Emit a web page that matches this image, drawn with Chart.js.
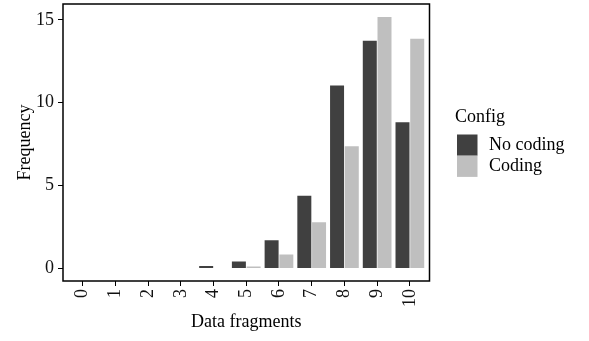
<!DOCTYPE html>
<html>
<head>
<meta charset="utf-8">
<script src="https://cdn.jsdelivr.net/npm/chart.js@4/dist/chart.umd.min.js"></script>
<style>
    html, body { margin: 0; padding: 0; background: #fff; }
    #wrap { width: 589px; height: 341px; position: relative; }
</style>
</head>
<body>
<div id="wrap"><canvas id="chart"></canvas></div>
<script>
// Data
const categories = ['0', '1', '2', '3', '4', '5', '6', '7', '8', '9', '10'];
const seriesNames = ['No coding', 'Coding'];
const noCoding = [0, 0, 0, 0, 0.14, 0.42, 1.7, 4.38, 11.04, 13.74, 8.82];
const coding = [0, 0, 0, 0, 0, 0.12, 0.84, 2.78, 7.38, 15.18, 13.86];
const yTicks = [0, 5, 10, 15];

const FONT = "'Liberation Serif', 'DejaVu Serif', serif";
const colors = ['#404040', '#bfbfbf'];

// Black frame round the panel
const framePlugin = {
    id: 'frame',
    afterDraw(chart) {
        const { ctx, chartArea: a } = chart;
        ctx.save();
        ctx.strokeStyle = '#000';
        ctx.lineWidth = 1.5;
        ctx.strokeRect(a.left, a.top, a.right - a.left, a.bottom - a.top);
        ctx.restore();
    }
};

// ggplot style legend on the right
const legendPlugin = {
    id: 'sideLegend',
    afterDraw(chart) {
        const ctx = chart.ctx;
        ctx.save();
        ctx.font = '18px ' + FONT;
        ctx.fillStyle = '#000';
        ctx.textBaseline = 'alphabetic';
        ctx.fillText('Config', 455, 121.5);
        ctx.textBaseline = 'middle';
        chart.data.datasets.forEach((ds, i) => {
            const y = 134.5 + i * 21.2;
            ctx.fillStyle = ds.backgroundColor;
            ctx.fillRect(457, y, 20.5, 21.2);
            ctx.fillStyle = '#000';
            ctx.fillText(ds.label, 489, y + 11);
        });
        ctx.restore();
    }
};

new Chart(document.getElementById('chart'), {
    type: 'bar',
    data: {
        datasets: [
            { label: seriesNames[0], data: noCoding.map((v, i) => ({ x: Number(categories[i]), y: v })), backgroundColor: colors[0] },
            { label: seriesNames[1], data: coding.map((v, i) => ({ x: Number(categories[i]), y: v })), backgroundColor: colors[1] }
        ]
    },
    options: {
        responsive: true,
        maintainAspectRatio: false,
        animation: false,
        layout: { padding: { top: 4, right: 159.5, left: 0, bottom: 0 } },
        datasets: { bar: { categoryPercentage: 0.9, barPercentage: 0.95 } },
        plugins: {
            legend: { display: false },
            tooltip: { enabled: false }
        },
        scales: {
            x: {
                type: 'linear',
                min: -0.6,
                max: 10.6,
                offset: false,
                afterBuildTicks: axis => { axis.ticks = categories.map(c => ({ value: Number(c) })); },
                afterFit: axis => {
                    axis.height = 60;
                    axis.paddingLeft = 0;
                    axis.paddingRight = 0;
                },
                grid: { display: true, drawOnChartArea: false, offset: false, color: '#000', tickLength: 5, tickWidth: 1 },
                border: { display: false },
                ticks: {
                    autoSkip: false,
                    maxRotation: 90,
                    minRotation: 90,
                    padding: 3,
                    color: '#111',
                    font: { family: FONT, size: 18 },
                    callback: v => categories[v]
                },
                title: {
                    display: true,
                    text: 'Data fragments',
                    color: '#000',
                    font: { family: FONT, size: 18 },
                    padding: { top: 0, bottom: 8 }
                }
            },
            y: {
                min: -0.76,
                max: 15.96,
                afterBuildTicks: axis => { axis.ticks = yTicks.map(v => ({ value: v })); },
                afterFit: axis => {
                    axis.width = 63;
                    axis.paddingTop = 0;
                    axis.paddingBottom = 0;
                },
                grid: { display: true, drawOnChartArea: false, color: '#000', tickLength: 5, tickWidth: 1 },
                border: { display: false },
                ticks: {
                    padding: 4,
                    color: '#111',
                    font: { family: FONT, size: 18 }
                },
                title: {
                    display: true,
                    text: 'Frequency',
                    color: '#000',
                    font: { family: FONT, size: 18 },
                    padding: { top: 14, bottom: 0 }
                }
            }
        }
    },
    plugins: [framePlugin, legendPlugin]
});
</script>
</body>
</html>
